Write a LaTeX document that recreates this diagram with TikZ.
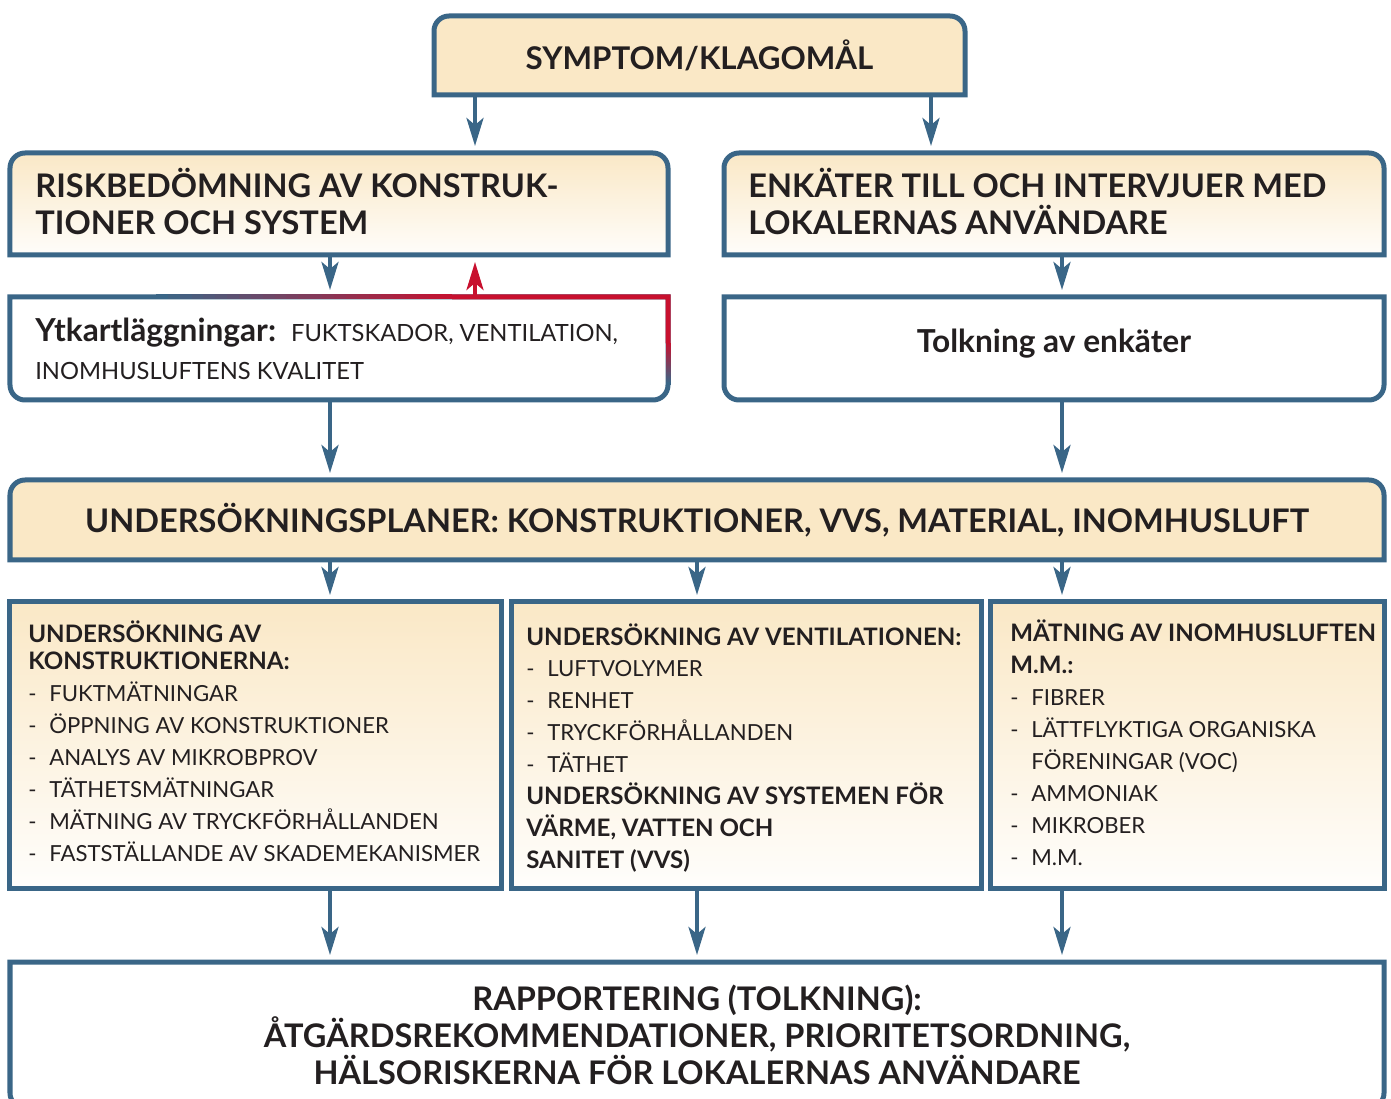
\documentclass[tikz,border=0pt]{standalone}
\usepackage{fontspec}
\setmainfont{Lato}
\usetikzlibrary{positioning, arrows.meta, calc}

\definecolor{frameblue}{RGB}{58,102,135}
\definecolor{sand}{RGB}{250,232,198}
\definecolor{alertred}{RGB}{200,16,46}
\definecolor{ink}{RGB}{35,31,32}

\newcommand{\bigbf}{\fontsize{18.5}{21}\selectfont\bfseries}
\newcommand{\listrm}{\fontsize{12.6}{18.2}\selectfont}
\newcommand{\listbf}{\fontsize{13.7}{18.2}\selectfont\bfseries}
\newcommand{\itm}[1]{\makebox[0.42cm][l]{-}#1}

% outlines with two rounded corners
\newcommand{\roundtop}[2]{\draw[frameline, #2] (#1.south west) -- ([yshift=-3mm]#1.north west) arc[start angle=180, end angle=90, radius=3mm] -- ([xshift=-3mm]#1.north east) arc[start angle=90, end angle=0, radius=3mm] -- (#1.south east) -- cycle;}
\newcommand{\roundbot}[2]{\draw[frameline, #2] (#1.north west) -- ([yshift=3mm]#1.south west) arc[start angle=180, end angle=270, radius=3mm] -- ([xshift=-3mm]#1.south east) arc[start angle=270, end angle=360, radius=3mm] -- (#1.north east) -- cycle;}

\tikzset{
	frameline/.style={draw=frameblue, line width=0.1cm},
	slot/.style={inner sep=0pt, outer sep=0pt},
	arr/.style={-{Stealth[length=0.56cm, width=0.34cm, inset=0.14cm]}, line width=0.08cm, draw=frameblue, shorten >=0.14cm},
	redarr/.style={arr, draw=alertred},
	txt/.style={text=ink, inner sep=0pt, align=left},
	ctxt/.style={text=ink, inner sep=0pt, align=center}
}

\begin{document}
\begin{tikzpicture}
	\useasboundingbox (0,0) rectangle (27.82,-21.98);

	% box places
	\node[slot, minimum width=10.62cm, minimum height=1.58cm]	(symp)	at	(13.99, -1.11)	{};
	\node[slot, minimum width=13.16cm, minimum height=2.04cm]	(risk)	at	(6.78, -4.08)	{};
	\node[slot, minimum width=13.20cm, minimum height=2.04cm]	(enk)	at	(21.08, -4.08)	{};
	\node[slot, minimum width=13.16cm, minimum height=2.06cm]	(ytk)	at	(6.78, -6.97)	{};
	\node[slot, minimum width=13.20cm, minimum height=2.06cm]	(tolk)	at	(21.08, -6.97)	{};
	\node[slot, minimum width=27.48cm, minimum height=1.60cm]	(plan)	at	(13.94, -10.40)	{};
	\node[slot, minimum width=9.82cm, minimum height=5.72cm]	(b1)	at	(5.11, -14.90)	{};
	\node[slot, minimum width=9.40cm, minimum height=5.72cm]	(b2)	at	(14.92, -14.90)	{};
	\node[slot, minimum width=7.88cm, minimum height=5.72cm]	(b3)	at	(23.74, -14.90)	{};
	\node[slot, minimum width=27.48cm, minimum height=2.92cm]	(rap)	at	(13.94, -20.70)	{};

	% outlines
	\roundtop{symp}{fill=sand}
	\roundtop{risk}{top color=sand, bottom color=sand!8}
	\roundtop{enk}{top color=sand, bottom color=sand!8}
	\roundbot{ytk}{fill=white}
	\roundbot{tolk}{fill=white}
	\roundtop{plan}{fill=sand}
	\foreach \b in {b1, b2, b3}
		\draw[frameline, top color=sand, bottom color=sand!6] (\b.south west) rectangle (\b.north east);
	\roundbot{rap}{fill=white}

	% red part of the ytk outline
	\foreach \k in {0,...,24}{
		\pgfmathsetmacro{\fr}{0.222+\k*0.018}
		\pgfmathtruncatemacro{\mix}{\k*4}
		\draw[line width=0.1cm, alertred!\mix!frameblue] ($(ytk.north west)!\fr!(ytk.north east)$) -- ($(ytk.north west)!0.672!(ytk.north east)$);
	}
	\foreach \k in {0,...,19}{
		\pgfmathsetmacro{\fr}{0.85-\k*0.02}
		\pgfmathtruncatemacro{\mix}{\k*5}
		\draw[line width=0.1cm, alertred!\mix!frameblue] ($(ytk.north east)!\fr!(ytk.south east)$) -- ($(ytk.north east)!0.45!(ytk.south east)$);
	}
	\draw[line width=0.1cm, alertred] ($(ytk.north west)!0.672!(ytk.north east)$) -- (ytk.north east) -- ($(ytk.north east)!0.45!(ytk.south east)$);

	% texts
	\node[ctxt, font=\fontsize{17.8}{21}\selectfont\bfseries]	(sympT)	at	(symp.center)	{SYMPTOM/KLAGOMÅL};
	\node[txt, font=\bigbf, anchor=west]	(riskT)	at	([xshift=0.5cm, yshift=0.05cm]risk.west)	{RISKBEDÖMNING AV KONSTRUK-\\TIONER OCH SYSTEM};
	\node[txt, font=\bigbf, anchor=west]	(enkT)	at	([xshift=0.48cm, yshift=0.05cm]enk.west)	{ENKÄTER TILL OCH INTERVJUER MED\\LOKALERNAS ANVÄNDARE};
	\node[txt, font=\fontsize{13.5}{21.6}\selectfont, anchor=west]	(ytkT)	at	([xshift=0.5cm]ytk.west)
		{{\fontsize{18}{21.6}\selectfont\bfseries Ytkartläggningar:}\hspace{0.3cm}FUKTSKADOR, VENTILATION,\\INOMHUSLUFTENS KVALITET};
	\node[ctxt, font=\fontsize{18}{20}\selectfont\bfseries]	(tolkT)	at	([yshift=0.1cm]tolk.center)	{Tolkning av enkäter};
	\node[ctxt, font=\bigbf]	(planT)	at	(plan.center)	{UNDERSÖKNINGSPLANER: KONSTRUKTIONER, VVS, MATERIAL, INOMHUSLUFT};
	\node[txt, font=\listrm, anchor=west]	(b1T)	at	([xshift=0.36cm, yshift=0.08cm]b1.west)
		{{\listbf UNDERSÖKNING AV}\\[-3pt]{\listbf KONSTRUKTIONERNA:}\\\itm{FUKTMÄTNINGAR}\\\itm{ÖPPNING AV KONSTRUKTIONER}\\\itm{ANALYS AV MIKROBPROV}\\\itm{TÄTHETSMÄTNINGAR}\\\itm{MÄTNING AV TRYCKFÖRHÅLLANDEN}\\\itm{FASTSTÄLLANDE AV SKADEMEKANISMER}};
	\node[txt, font=\listrm, anchor=west]	(b2T)	at	([xshift=0.30cm, yshift=-0.06cm]b2.west)
		{{\listbf UNDERSÖKNING AV VENTILATIONEN:}\\\itm{LUFTVOLYMER}\\\itm{RENHET}\\\itm{TRYCKFÖRHÅLLANDEN}\\\itm{TÄTHET}\\{\listbf UNDERSÖKNING AV SYSTEMEN FÖR}\\{\listbf VÄRME, VATTEN OCH}\\{\listbf SANITET (VVS)}};
	\node[txt, font=\listrm, anchor=west]	(b3T)	at	([xshift=0.40cm, yshift=0.04cm]b3.west)
		{{\listbf MÄTNING AV INOMHUSLUFTEN}\\{\listbf M.M.:}\\\itm{FIBRER}\\\itm{LÄTTFLYKTIGA ORGANISKA}\\\hspace*{0.42cm}FÖRENINGAR (VOC)\\\itm{AMMONIAK}\\\itm{MIKROBER}\\\itm{M.M.}};
	\node[ctxt, font=\bigbf]	(rapT)	at	(rap.center)	{RAPPORTERING (TOLKNING):\\ÅTGÄRDSREKOMMENDATIONER, PRIORITETSORDNING,\\HÄLSORISKERNA FÖR LOKALERNAS ANVÄNDARE};

	% arrow columns
	\coordinate	(colA)	at	(6.60, 0);
	\coordinate	(colB)	at	(13.94, 0);
	\coordinate	(colC)	at	(21.24, 0);
	\coordinate	(colS1)	at	(9.50, 0);
	\coordinate	(colS2)	at	(18.62, 0);

	\draw[arr]	(symp.south -| colS1)	--	(risk.north -| colS1);
	\draw[arr]	(symp.south -| colS2)	--	(enk.north -| colS2);
	\draw[arr]	(risk.south -| colA)	--	(ytk.north -| colA);
	\draw[arr]	(enk.south -| colC)	--	(tolk.north -| colC);
	\draw[redarr]	(ytk.north -| colS1)	--	(risk.south -| colS1);
	\draw[arr]	(ytk.south -| colA)	--	(plan.north -| colA);
	\draw[arr]	(tolk.south -| colC)	--	(plan.north -| colC);
	\foreach \c/\b in {colA/b1, colB/b2, colC/b3}{
		\draw[arr]	(plan.south -| \c)	--	(\b.north -| \c);
		\draw[arr]	(\b.south -| \c)	--	(rap.north -| \c);
	}
\end{tikzpicture}
\end{document}
